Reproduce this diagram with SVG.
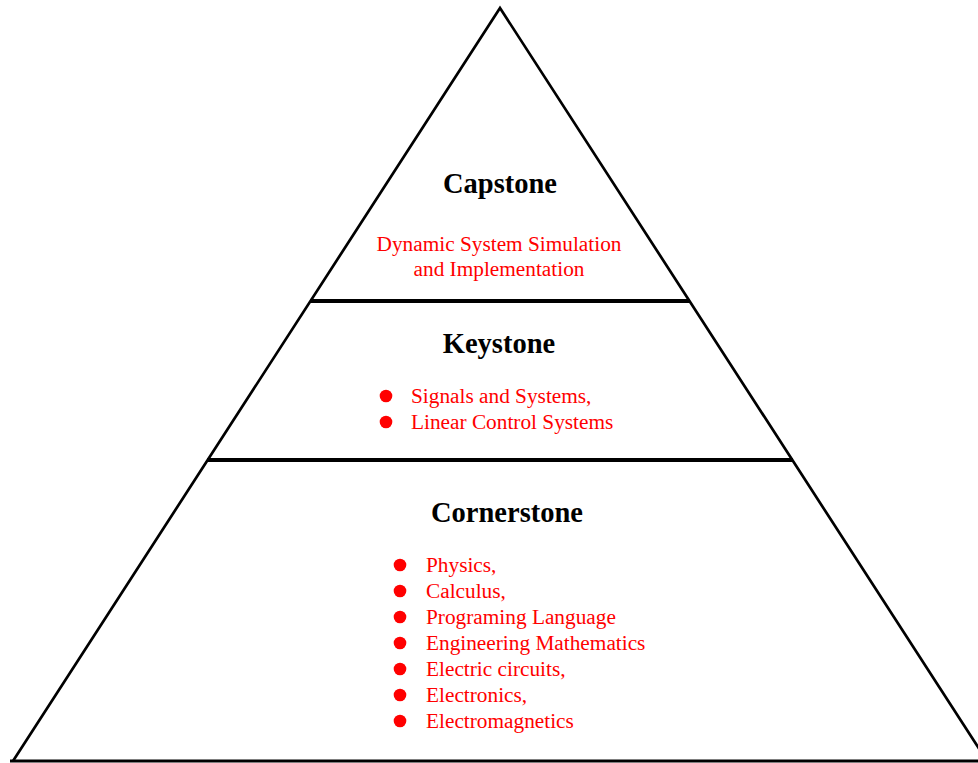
<svg xmlns="http://www.w3.org/2000/svg" width="978" height="763" viewBox="0 0 978 763">
  <style>
    .edge { fill: none; stroke: #000; stroke-width: 2.7; stroke-linejoin: miter; }
    .divider { stroke: #000; stroke-width: 4; }
    .title { font-family: "Liberation Serif", "Times New Roman", serif; font-weight: bold; font-size: 28.5px; fill: #000; text-anchor: middle; }
    .item { font-family: "Liberation Serif", "Times New Roman", serif; font-size: 21.3px; fill: #ff0000; }
    .dot { fill: #ff0000; }
  </style>
  <rect width="978" height="763" fill="#fff"/>

  <!-- pyramid outline and tier dividers -->
  <g id="connectors">
    <polyline class="edge" points="13,761 500,8 987,761"/>
    <line x1="10" y1="761" x2="978" y2="761" stroke="#000" stroke-width="3"/>
    <line class="divider" x1="310" y1="301" x2="690" y2="301"/>
    <line class="divider" x1="207" y1="460" x2="793" y2="460"/>
  </g>

  <g id="capstone">
    <text class="title" x="500" y="193">Capstone</text>
    <text class="item" x="499" y="251" text-anchor="middle">Dynamic System Simulation</text>
    <text class="item" x="499" y="276" text-anchor="middle">and Implementation</text>
  </g>

  <g id="keystone">
    <text class="title" x="499" y="353">Keystone</text>
    <circle class="dot" cx="386" cy="396" r="6.3"/>
    <text class="item" x="411" y="403">Signals and Systems,</text>
    <circle class="dot" cx="386" cy="422" r="6.3"/>
    <text class="item" x="411" y="429">Linear Control Systems</text>
  </g>

  <g id="cornerstone">
    <text class="title" x="507" y="522">Cornerstone</text>
    <circle class="dot" cx="400" cy="565" r="6.3"/>
    <text class="item" x="426" y="572">Physics,</text>
    <circle class="dot" cx="400" cy="591" r="6.3"/>
    <text class="item" x="426" y="598">Calculus,</text>
    <circle class="dot" cx="400" cy="617" r="6.3"/>
    <text class="item" x="426" y="624">Programing Language</text>
    <circle class="dot" cx="400" cy="643" r="6.3"/>
    <text class="item" x="426" y="650">Engineering Mathematics</text>
    <circle class="dot" cx="400" cy="669" r="6.3"/>
    <text class="item" x="426" y="676">Electric circuits,</text>
    <circle class="dot" cx="400" cy="695" r="6.3"/>
    <text class="item" x="426" y="702">Electronics,</text>
    <circle class="dot" cx="400" cy="721" r="6.3"/>
    <text class="item" x="426" y="728">Electromagnetics</text>
  </g>
</svg>
